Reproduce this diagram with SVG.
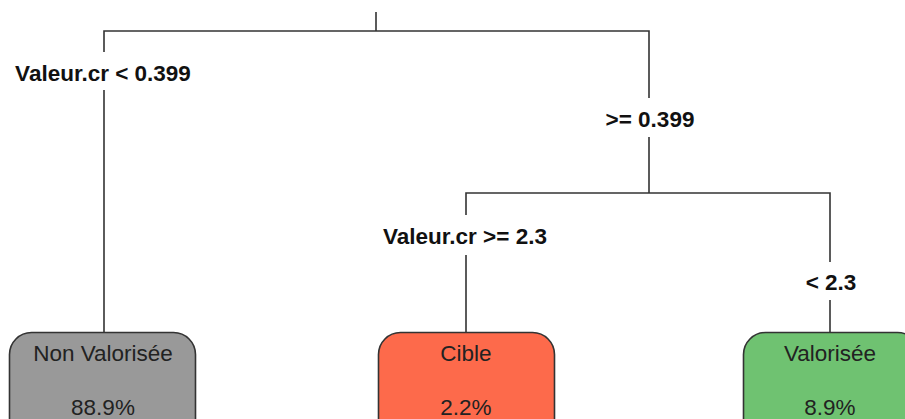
<svg xmlns="http://www.w3.org/2000/svg" width="905" height="419" viewBox="0 0 905 419">
<style>
.ln{fill:none;stroke:#333;stroke-width:1.6}
.lbl{font-family:"Liberation Sans",Arial,sans-serif;font-weight:bold;font-size:22.5px;fill:#111;text-anchor:middle}
.nt{font-family:"Liberation Sans",Arial,sans-serif;font-size:22.5px;fill:#222;text-anchor:middle}
.box{stroke:#333;stroke-width:1.6}
</style>
<rect width="905" height="419" fill="#fff"/>
<g id="connectors">
<path class="ln" d="M376,12V31M104,52V31H649V98"/>
<path class="ln" d="M104,90V333"/>
<path class="ln" d="M649,137V193M466,215V193H830V262"/>
<path class="ln" d="M466,255V333M830,300V333"/>
<text class="lbl" x="103" y="81">Valeur.cr &lt; 0.399</text>
<text class="lbl" x="650" y="127">&gt;= 0.399</text>
<text class="lbl" x="465" y="244">Valeur.cr &gt;= 2.3</text>
<text class="lbl" x="831" y="290">&lt; 2.3</text>
</g>
<g id="node-non-valorisee">
<rect class="box" x="9.5" y="332.5" width="186" height="110" rx="22" fill="#999999"/>
<text class="nt" x="103" y="361">Non Valorisée</text>
<text class="nt" x="103" y="415">88.9%</text>
</g>
<g id="node-cible">
<rect class="box" x="378.5" y="332.5" width="176" height="110" rx="22" fill="#fd6a4b"/>
<text class="nt" x="466" y="361">Cible</text>
<text class="nt" x="466" y="415">2.2%</text>
</g>
<g id="node-valorisee">
<rect class="box" x="743.5" y="332.5" width="176" height="110" rx="22" fill="#6fc271"/>
<text class="nt" x="830" y="361">Valorisée</text>
<text class="nt" x="830" y="415">8.9%</text>
</g>
</svg>
